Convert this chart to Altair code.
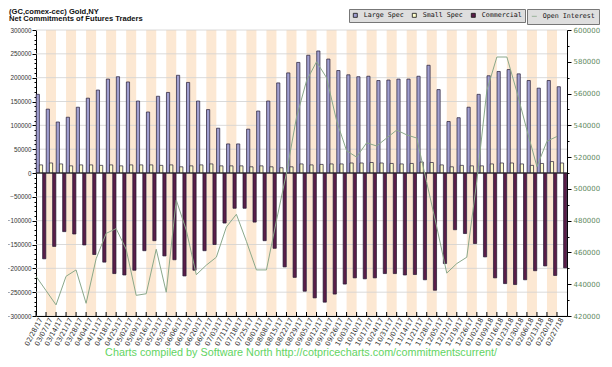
import altair as alt
import pandas as pd

dates = ["02/28/17","03/07/17","03/14/17","03/21/17","03/28/17","04/04/17","04/11/17","04/18/17","04/25/17",
         "05/02/17","05/09/17","05/16/17","05/23/17","05/30/17","06/06/17","06/13/17","06/20/17","06/27/17",
         "07/03/17","07/11/17","07/18/17","07/25/17","08/01/17","08/08/17","08/15/17","08/22/17","08/29/17",
         "09/05/17","09/12/17","09/19/17","09/26/17","10/03/17","10/10/17","10/17/17","10/24/17","10/31/17",
         "11/07/17","11/14/17","11/21/17","11/28/17","12/05/17","12/12/17","12/19/17","12/26/17",
         "01/02/18","01/09/18","01/16/18","01/23/18","01/30/18","02/06/18","02/13/18","02/20/18","02/27/18"]

large_spec = [165000,134000,107000,117000,138000,157000,174000,197000,202000,191000,151000,128000,161000,
              169000,205000,190000,151000,133000,94000,61000,61000,92000,130000,151000,189000,210000,232000,
              247000,256000,239000,215000,206000,202000,203000,194000,195000,197000,197000,203000,226000,
              175000,108000,116000,138000,165000,204000,213000,217000,208000,194000,178000,194000,181000]

small_spec = [17000,21000,19000,15000,17000,17000,16000,17000,15000,17000,17000,17000,16000,17000,13000,
              15000,17000,19000,15000,15000,15000,13000,15000,13000,11000,13000,19000,17000,18000,19000,
              19000,21000,21000,22000,21000,20000,19000,20000,23000,22000,17000,13000,16000,15000,15000,
              19000,21000,21000,19000,16000,20000,24000,21000]

commercial = [-180000,-154000,-123000,-128000,-151000,-171000,-187000,-211000,-214000,-204000,-163000,
              -142000,-174000,-182000,-216000,-204000,-163000,-150000,-105000,-74000,-74000,-103000,
              -142000,-158000,-197000,-219000,-248000,-262000,-271000,-254000,-233000,-220000,-222000,
              -220000,-211000,-211000,-214000,-213000,-224000,-246000,-190000,-119000,-127000,-148000,
              -176000,-220000,-232000,-234000,-224000,-205000,-195000,-215000,-199000]

open_interest = [445000,436000,427000,445000,449000,428000,456000,472000,475000,462000,433000,434000,
                 462000,435000,493000,474000,446000,452000,457000,476000,484000,467000,449000,449000,
                 480000,510000,545000,568000,580000,570000,543000,524000,520000,529000,527000,532000,
                 537000,534000,532000,504000,476000,447000,453000,457000,505000,562000,583000,583000,
                 561000,537000,514000,530000,533000]

series = ["Large Spec", "Small Spec", "Commercial"]
series_colors = ["#a09fd0", "#ffffcc", "#5a1d48"]
oi_name = ["Open Interest"]
oi_color = ["#8aa88a"]

title1 = "(GC,comex-cec) Gold,NY"
title2 = "Net Commitments of Futures Traders"
footer = "Charts compiled by Software North  http://cotpricecharts.com/commitmentscurrent/"

grid_vals = list(range(-300000, 300001, 50000))

W, H = 531, 286
PL = 28  # left padding

wk = pd.DataFrame({"date": dates, "oi": open_interest, "idx": list(range(len(dates))),
                   "name": oi_name * len(dates)})
long = pd.DataFrame({
    "date": dates * 3,
    "series": [series[0]] * len(dates) + [series[1]] * len(dates) + [series[2]] * len(dates),
    "value": large_spec + small_spec + commercial,
})

xscale = alt.Scale(domain=dates, paddingInner=0, paddingOuter=0)
yscale = alt.Scale(domain=[-300000, 300000], nice=False, zero=False)

x_axis = alt.Axis(title=None, bandPosition=0, labelAngle=-62, labelAlign="right", labelBaseline="middle",
                  labelFont="DejaVu Sans", labelFontSize=6.8, labelColor="#333", labelPadding=2,
                  ticks=False, domainColor="#000", domainWidth=1, labelOverlap=False, grid=False)

left_axis = alt.Axis(title=None, values=list(range(-300000, 300001, 10000)), format="d",
                     labelExpr="datum.value % 50000 === 0 ? datum.label : ''",
                     tickSize={"condition": {"test": "datum.value % 50000 === 0", "value": 4}, "value": 2},
                     tickColor="#000", domainColor="#000", labelFont="Liberation Sans", labelFontSize=6.3,
                     labelColor="#333", labelPadding=1, grid=False, labelOverlap=False)

right_axis = alt.Axis(title=None, orient="right", values=list(range(420000, 600001, 10000)), format="d",
                      labelExpr="datum.value % 20000 === 0 ? datum.label : ''",
                      tickSize={"condition": {"test": "datum.value % 20000 === 0", "value": 4}, "value": 2},
                      tickColor="#000", domainColor="#000", labelFont="DejaVu Sans", labelFontSize=7,
                      labelColor="#5f8a5f", labelPadding=2, grid=False, labelOverlap=False)

legend_common = dict(direction="horizontal", title=None, orient="none",
                     fillColor="#dedede", strokeColor="#777",
                     labelFont="DejaVu Sans Mono", labelFontSize=6.65, labelColor="#111",
                     symbolStrokeWidth=0.8, labelOffset=5, columnPadding=6)

legend1 = alt.Legend(legendX=349 - 8 - PL, legendY=-21, padding=3, symbolSize=16, symbolType="square",
                     symbolStrokeColor="#111", **legend_common)
legend2 = alt.Legend(legendX=527 - 8 - PL, legendY=-21, padding=4, symbolSize=25, symbolType="stroke",
                     **legend_common)

stripes = alt.Chart(wk).transform_filter("datum.idx % 2 === 1").mark_rect(color="#fce8d3").encode(
    x=alt.X("date:N", scale=xscale, axis=x_axis, sort=dates),
    y=alt.value(0), y2=alt.value(H))

grid = alt.Chart(pd.DataFrame({"g": grid_vals})).mark_rule(color="#d0d0d0", strokeWidth=0.8).encode(
    y=alt.Y("g:Q", scale=yscale, axis=left_axis))

bars = alt.Chart(long).mark_bar(strokeWidth=0.7, stroke="#231a33").encode(
    x=alt.X("date:N", scale=xscale, axis=x_axis, sort=dates),
    xOffset=alt.XOffset("series:N", sort=series, scale=alt.Scale(domain=series, paddingInner=0, paddingOuter=0.06)),
    y=alt.Y("value:Q", scale=yscale, axis=left_axis),
    fill=alt.Fill("series:N", scale=alt.Scale(domain=series, range=series_colors), legend=legend1))

zero = alt.Chart(pd.DataFrame({"z": [0]})).mark_rule(color="#222", strokeWidth=1).encode(
    y=alt.Y("z:Q", scale=yscale, axis=left_axis))

xticks = alt.Chart(wk).mark_rule(color="#000", strokeWidth=1).encode(
    x=alt.X("date:N", scale=xscale, axis=x_axis, sort=dates, bandPosition=0),
    y=alt.value(H - 4), y2=alt.value(H))

t1 = alt.Chart(pd.DataFrame({"t": [title1]})).mark_text(
    font="Liberation Sans", fontSize=7.6, fontWeight="bold", align="left", baseline="middle", color="#111"
).encode(text="t:N", x=alt.value(9 - 8 - PL), y=alt.value(-18.5))
t2 = alt.Chart(pd.DataFrame({"t": [title2]})).mark_text(
    font="Liberation Sans", fontSize=7.6, fontWeight="bold", align="left", baseline="middle", color="#111"
).encode(text="t:N", x=alt.value(9 - 8 - PL), y=alt.value(-11))
foot = alt.Chart(pd.DataFrame({"t": [footer]})).mark_text(
    font="Liberation Sans", fontSize=10.8, align="center", baseline="middle", color="#62d462"
).encode(text="t:N", x=alt.value(301 - 8 - PL), y=alt.value(323))

left = alt.layer(stripes, grid, bars, zero, xticks, t1, t2, foot)

line = alt.Chart(wk).mark_line(strokeWidth=1).encode(
    x=alt.X("date:N", scale=xscale, axis=x_axis, sort=dates, bandPosition=0),
    y=alt.Y("oi:Q", scale=alt.Scale(domain=[420000, 600000], nice=False, zero=False), axis=right_axis),
    stroke=alt.Stroke("name:N", scale=alt.Scale(domain=oi_name, range=oi_color), legend=legend2))

chart = alt.layer(left, line).resolve_scale(y="independent").properties(
    width=W, height=H,
    padding={"left": PL, "top": 22, "right": 612 - 16 - PL - W, "bottom": 43},
    autosize=alt.AutoSizeParams(type="none"),
    background="white"
).configure_view(stroke=None)

chart.save("out.html", embed_options={"renderer": "svg", "actions": False})
